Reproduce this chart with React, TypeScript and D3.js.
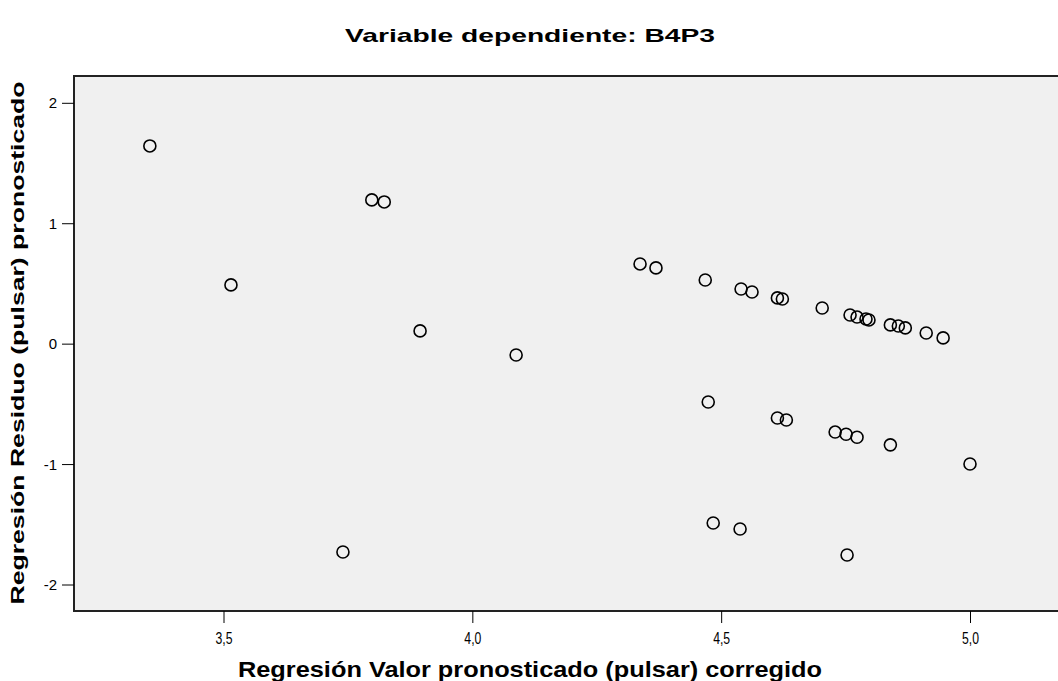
import React from "react";
import * as d3 from "d3";

const title = "Variable dependiente: B4P3";
const xTitle = "Regresión Valor pronosticado (pulsar) corregido";
const yTitle = "Regresión Residuo (pulsar) pronosticado";

const xTicks = [3.5, 4.0, 4.5, 5.0];
const yTicks = [-2, -1, 0, 1, 2];

const predicted = [
  3.351, 3.514, 3.739, 3.797, 3.822, 3.894, 4.087, 4.336, 4.368, 4.467,
  4.473, 4.483, 4.537, 4.539, 4.561, 4.612, 4.622, 4.612, 4.630, 4.702,
  4.728, 4.750, 4.772, 4.752, 4.758, 4.772, 4.790, 4.796, 4.839, 4.855,
  4.869, 4.911, 4.945, 4.839, 4.999,
];
const residual = [
  1.646, 0.492, -1.726, 1.198, 1.181, 0.110, -0.090, 0.666, 0.633, 0.533,
  -0.480, -1.485, -1.535, 0.458, 0.433, 0.384, 0.375, -0.613, -0.630, 0.300,
  -0.730, -0.748, -0.773, -1.751, 0.242, 0.225, 0.209, 0.201, 0.160, 0.151,
  0.135, 0.093, 0.052, -0.836, -0.995,
];

const W = 1058;
const H = 681;
const frame = { left: 74, top: 76, right: 1075, bottom: 611 };

export default function App() {
  const x = d3.scaleLinear().domain([3.5, 5.0]).range([224, 970.5]);
  const y = d3.scaleLinear().domain([-2, 2]).range([585, 103.3]);

  const fmt = (v: number) => d3.format(".1f")(v).replace(".", ",");

  return (
    <svg
      width={W}
      height={H}
      style={{ position: "absolute", left: 0, top: 0, background: "#fff" }}
      fontFamily="Arial, 'Liberation Sans', sans-serif"
    >
      <rect x={0} y={0} width={W} height={H} fill="#fff" />
      <text
        x={530}
        y={42}
        textAnchor="middle"
        fontSize={19}
        fontWeight="bold"
        textLength={370}
        lengthAdjust="spacingAndGlyphs"
      >
        {title}
      </text>
      <rect
        x={frame.left}
        y={frame.top}
        width={frame.right - frame.left}
        height={frame.bottom - frame.top}
        fill="#f0f0f0"
        stroke="#222"
        strokeWidth={2}
      />
      {yTicks.map((t) => (
        <g key={"y" + t}>
          <line x1={62} x2={frame.left} y1={y(t)} y2={y(t)} stroke="#000" strokeWidth={1} />
          <text x={57} y={y(t) + 5} textAnchor="end" fontSize={15} fill="#000">
            {t}
          </text>
        </g>
      ))}
      {xTicks.map((t) => (
        <g key={"x" + t}>
          <line x1={x(t)} x2={x(t)} y1={frame.bottom} y2={623} stroke="#000" strokeWidth={1} />
          <text
            x={x(t)}
            y={644}
            textAnchor="middle"
            fontSize={16}
            fill="#000"
            textLength={17}
            lengthAdjust="spacingAndGlyphs"
          >
            {fmt(t)}
          </text>
        </g>
      ))}
      <text
        x={530}
        y={677}
        textAnchor="middle"
        fontSize={22}
        fontWeight="bold"
        textLength={584}
        lengthAdjust="spacingAndGlyphs"
      >
        {xTitle}
      </text>
      <text
        transform={`translate(24, 343) rotate(-90)`}
        textAnchor="middle"
        fontSize={18}
        fontWeight="bold"
        textLength={523}
        lengthAdjust="spacingAndGlyphs"
      >
        {yTitle}
      </text>
      {predicted.map((p, i) => (
        <circle
          key={i}
          cx={x(p)}
          cy={y(residual[i])}
          r={6}
          fill="none"
          stroke="#000"
          strokeWidth={1.6}
        />
      ))}
    </svg>
  );
}
